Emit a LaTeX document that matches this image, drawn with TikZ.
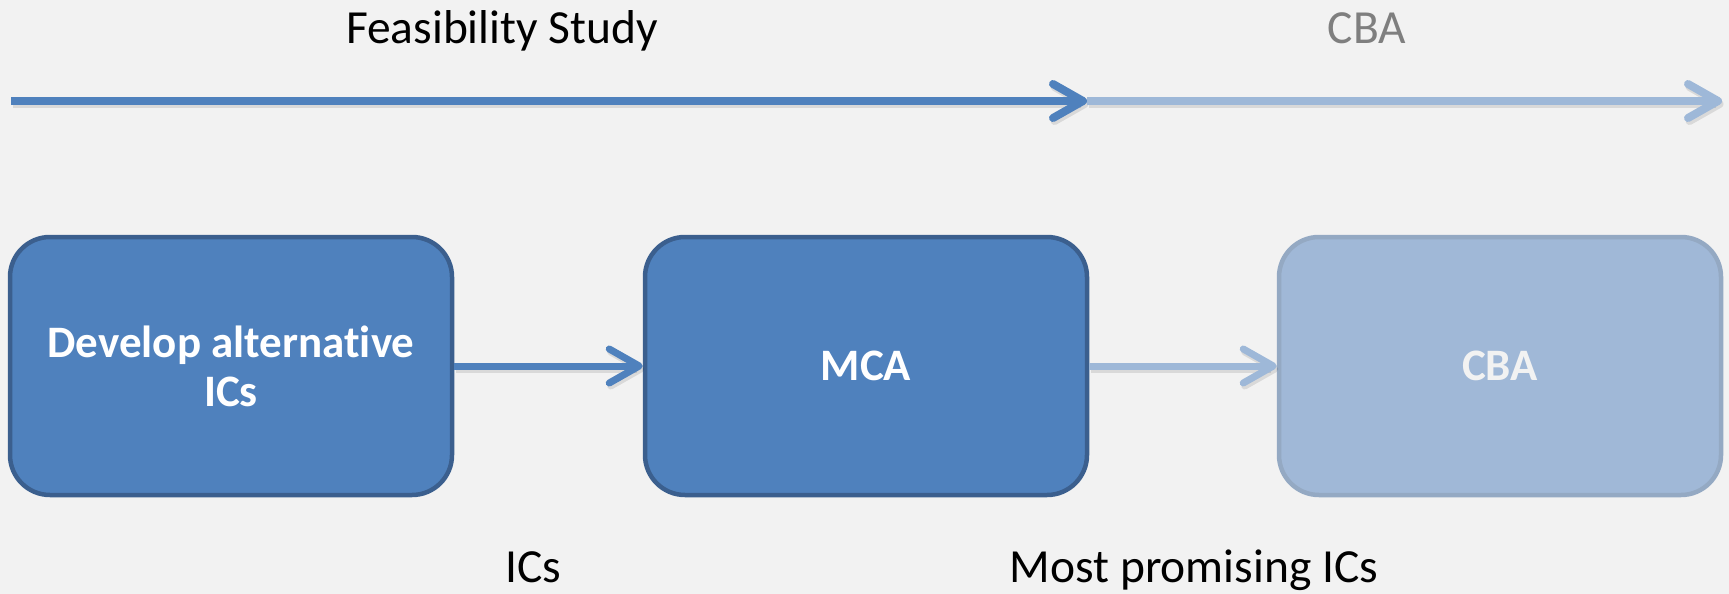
\documentclass[tikz,border=0pt]{standalone}
\usepackage{fontspec}
\setmainfont{Carlito}[Ligatures=NoCommon]
\usetikzlibrary{arrows.meta}

\definecolor{pagebg}{HTML}{F2F2F2}
\definecolor{stepblue}{HTML}{4F81BD}
\definecolor{stepedge}{HTML}{3B5F8E}
\definecolor{paleblue}{HTML}{A0B8D7}
\definecolor{paleedge}{HTML}{94A9C3}
\definecolor{paleline}{HTML}{9EB8D8}
\definecolor{labelgray}{HTML}{7F7F7F}

\tikzset{
  stagebox/.style={rounded corners=40pt, line width=4.5pt,
    minimum width=442pt, minimum height=258pt, inner sep=0pt,
    align=center, text=white,
    font=\fontsize{45}{49}\selectfont\bfseries},
  activebox/.style={stagebox, fill=stepblue, draw=stepedge},
  pendingbox/.style={stagebox, fill=paleblue, draw=paleedge, text=pagebg},
  flowarrow/.style={line width=#1, line cap=butt,
    -{Straight Barb[length=30pt, width=34pt, round]}},
  flowarrow/.default=8pt,
  shadowcopy/.style={draw=black, opacity=0.10,
    transform canvas={shift={(1.5pt,-3pt)}}},
  caption/.style={anchor=base, font=\fontsize{47.5}{52}\selectfont},
}

\begin{document}
\begin{tikzpicture}[x=1pt, y=-1pt]
  % page
  \fill[pagebg] (0,0) rectangle (1729,594);
  \useasboundingbox (0,0) rectangle (1729,594);

  % phase labels
  \node[caption] (feas) at (502,44) {Feasibility Study};
  \node[caption, text=labelgray] (cbaphase) at (1367,44) {CBA};

  % phase timeline
  \coordinate (tstart) at (11,101);
  \coordinate (tmid) at (1087,101);
  \coordinate (tend) at (1722,101);
  \draw[flowarrow, shadowcopy] (tstart) -- (tmid);
  \draw[flowarrow, shadowcopy] (tmid) -- (tend);
  \draw[flowarrow, paleline] (tmid) -- (tend);
  \draw[flowarrow, stepblue] (tstart) -- (tmid);

  % process steps
  \node[activebox] (develop) at (231,366) {Develop alternative\\ICs};
  \node[activebox] (mca) at (866,366) {MCA};
  \node[pendingbox] (cba) at (1500,366) {CBA};

  % step connectors
  \draw[flowarrow=7pt, shadowcopy] (develop.east) -- (mca.west);
  \draw[flowarrow=7pt, shadowcopy] (mca.east) -- (cba.west);
  \draw[flowarrow=7pt, stepblue] (develop.east) -- (mca.west);
  \draw[flowarrow=7pt, paleline] (mca.east) -- (cba.west);

  % outputs
  \node[caption] (icsout) at (533,582) {ICs};
  \node[caption] (bestout) at (1194,582) {Most promising ICs};
\end{tikzpicture}
\end{document}
